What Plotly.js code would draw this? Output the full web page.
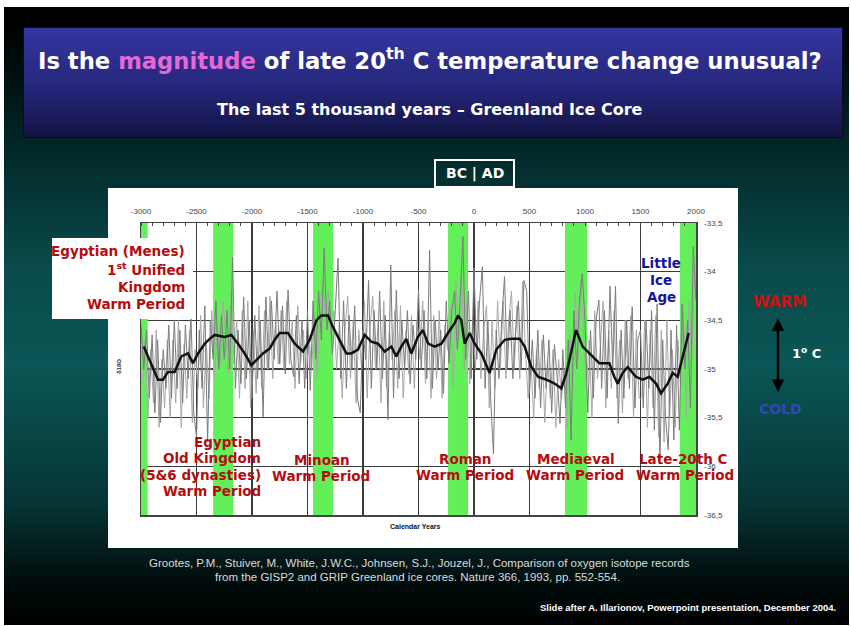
<!DOCTYPE html>
<html><head><meta charset="utf-8">
<script src="https://cdn.plot.ly/plotly-3.0.1.min.js"></script>
<style>
html,body{margin:0;padding:0;background:#fff;width:851px;height:626px;overflow:hidden}
#slide{position:absolute;left:4px;top:7px;width:845px;height:618px;
 background:linear-gradient(to bottom,#000 0%,#000 3%,#022626 22%,#094a4a 42%,#0b5656 58%,#063535 80%,#010a0a 94%,#000 100%)}
#tbox{position:absolute;left:24px;top:28px;width:818px;height:109px;
 background:linear-gradient(to bottom,#3536a0 0%,#25267a 55%,#131344 100%);box-shadow:0 0 0 1px #0a0a22}
#chart{position:absolute;left:0;top:0;width:851px;height:626px}
</style></head>
<body><div id="slide"></div><div id="tbox"></div><div id="chart"></div>
<script>
// ---- data ----
const xTickVals = [-3000,-2500,-2000,-1500,-1000,-500,0,500,1000,1500,2000];
const xTickText = ['-3000','-2500','-2000','-1500','-1000','-500','0','500','1000','1500','2000'];
const yTickVals = [-33.5,-34,-34.5,-35,-35.5,-36,-36.5];
const yTickText = ['-33,5','-34','-34,5','-35','-35,5','-36','-36,5'];

const bandStart = [-3000,-2350,-1450,-234,820,1856];
const bandEnd   = [-2940,-2170,-1270,-54,1018,2000];

// raw record, dark grey (every 25 years from -3000)
const rawStartYear = -3000;
const rawStepYears = 25;
const rawValues = [
 -34.55,-35.0,-34.6,-35.3,-34.65,-35.45,-34.7,-35.55,-34.8,-35.2,
 -34.55,-35.3,-34.5,-35.2,-34.6,-35.35,-34.55,-35.1,-34.45,-35.45,
 -35.7,-34.6,-35.2,-34.35,-35.75,-34.5,-34.9,-34.3,-35.0,-34.45,
 -34.9,-34.4,-35.0,-33.85,-35.2,-34.6,-35.15,-34.26,-35.1,-34.5,
 -35.3,-34.45,-35.1,-34.5,-35.49,-34.26,-35.0,-34.3,-34.9,-34.2,
 -34.95,-34.35,-35.05,-34.19,-34.9,-35.08,-34.45,-35.15,-34.5,-35.2,
 -34.4,-35.22,-34.3,-34.9,-34.2,-34.7,-33.76,-34.6,-34.3,-34.85,
 -34.4,-33.86,-35.1,-34.3,-35.2,-34.45,-35.0,-34.35,-35.3,-35.45,
 -34.6,-34.9,-34.09,-35.2,-34.4,-35.0,-34.2,-35.1,-34.45,-35.52,
 -33.93,-35.3,-34.19,-35.1,-34.5,-35.0,-34.4,-35.15,-34.55,-34.9,
 -34.19,-35.0,-34.4,-35.1,-33.78,-35.2,-34.5,-35.0,-34.6,-35.25,
 -34.3,-34.94,-34.4,-34.2,-34.8,-34.3,-33.64,-34.9,-34.2,-35.1,
 -33.96,-34.9,-34.3,-33.95,-35.2,-34.5,-35.3,-35.87,-34.6,-35.1,
 -34.5,-34.05,-35.0,-34.4,-35.1,-34.6,-34.3,-35.0,-34.09,-34.2,
 -35.25,-34.7,-35.3,-34.6,-35.4,-34.65,-35.2,-34.7,-35.45,-34.75,
 -35.1,-35.56,-34.8,-35.4,-34.7,-35.73,-34.4,-35.0,-34.3,-34.02,
 -34.5,-35.45,-34.6,-35.3,-34.5,-34.29,-35.2,-34.4,-35.3,-34.15,
 -35.0,-34.15,-35.56,-34.6,-35.3,-34.5,-35.2,-34.36,-35.4,-34.7,
 -34.6,-35.4,-34.5,-35.2,-34.4,-35.63,-34.33,-35.94,-34.7,-35.5,
 -35.83,-34.6,-35.73,-34.55,-35.63,-34.33,-35.0,-34.5,-35.4,-33.74,
 -34.3
];
// second raw record, light grey (every 25 years from -2987.5)
const raw2StartYear = -2987.5;
const raw2StepYears = 25;
const raw2Values = [
 -35.1,-34.7,-35.5,-34.8,-35.35,-34.6,-35.6,-34.9,-35.4,-34.7,
 -35.5,-34.7,-35.35,-34.5,-35.6,-34.75,-35.3,-34.6,-35.55,-34.8,
 -35.2,-34.45,-35.4,-34.7,-35.3,-34.4,-35.1,-34.55,-34.95,-34.3,
 -34.6,-35.05,-34.2,-34.95,-34.5,-35.3,-34.4,-35.2,-34.3,-35.4,
 -34.6,-35.25,-34.35,-35.2,-34.4,-35.0,-34.25,-35.1,-34.5,-34.95,
 -34.4,-35.0,-34.3,-34.95,-34.5,-35.2,-34.35,-34.95,-34.6,-35.1,
 -34.65,-35.0,-34.45,-35.1,-34.35,-34.1,-34.5,-34.2,-34.7,-34.4,
 -35.0,-34.5,-35.3,-34.6,-34.25,-35.1,-34.5,-35.35,-34.6,-35.0,
 -34.3,-35.3,-34.6,-34.25,-35.0,-34.5,-35.35,-34.3,-35.2,-34.6,
 -34.9,-34.4,-35.2,-34.35,-35.3,-34.6,-35.05,-34.45,-35.2,-34.5,
 -34.9,-34.3,-35.15,-34.5,-35.3,-34.45,-35.1,-34.4,-35.3,-34.55,
 -34.8,-34.35,-35.2,-34.1,-34.7,-34.0,-35.0,-34.3,-35.15,-34.5,
 -35.0,-34.3,-35.1,-34.6,-34.35,-35.4,-34.5,-35.2,-34.3,-35.0,
 -34.3,-35.1,-34.5,-34.2,-35.0,-34.35,-35.1,-34.1,-34.8,-35.3,
 -34.9,-35.5,-34.8,-35.2,-34.7,-35.55,-34.9,-35.3,-34.8,-35.6,
 -34.9,-35.3,-35.0,-35.6,-34.6,-35.2,-34.2,-34.9,-34.1,-34.6,
 -35.2,-34.7,-35.5,-34.4,-35.1,-34.8,-34.3,-35.4,-34.6,-35.2,
 -34.4,-35.3,-34.7,-35.45,-34.5,-35.1,-34.45,-35.5,-34.6,-35.3,
 -35.3,-34.5,-35.6,-34.6,-35.4,-34.45,-35.7,-34.6,-35.75,-34.5,
 -35.5,-34.8,-35.6,-34.7,-35.2,-34.4,-35.5,-34.3,-34.9,-34.0
];

const smoothYears = [-2975,-2937,-2892,-2847,-2802,-2757,-2697,-2637,-2577,-2532,-2486,-2426,-2381,-2336,-2246,-2186,-2126,-2066,-2006,-1961,-1901,-1841,-1796,-1750,-1676,-1615,-1540,-1480,-1420,-1375,-1315,-1270,-1210,-1150,-1105,-1045,-985,-925,-865,-804,-744,-700,-655,-610,-565,-505,-460,-414,-354,-294,-234,-174,-144,-114,-84,-39,6,66,141,201,277,337,412,457,517,577,652,727,787,830,859,919,979,1039,1129,1219,1264,1294,1339,1384,1459,1520,1580,1640,1685,1745,1790,1835,1874,1910,1934];
const smoothValues = [-34.77,-34.87,-34.98,-35.11,-35.11,-35.03,-35.03,-34.87,-34.84,-34.94,-34.84,-34.74,-34.69,-34.65,-34.67,-34.65,-34.74,-34.84,-34.96,-34.91,-34.84,-34.79,-34.70,-34.63,-34.63,-34.74,-34.82,-34.70,-34.50,-34.45,-34.45,-34.57,-34.70,-34.84,-34.84,-34.80,-34.65,-34.72,-34.74,-34.82,-34.77,-34.87,-34.77,-34.69,-34.84,-34.67,-34.60,-34.74,-34.77,-34.74,-34.63,-34.53,-34.45,-34.50,-34.74,-34.63,-34.74,-34.84,-35.04,-34.80,-34.70,-34.69,-34.69,-34.77,-34.98,-35.08,-35.11,-35.15,-35.20,-35.05,-34.91,-34.60,-34.77,-34.84,-34.94,-34.94,-35.08,-35.15,-35.04,-34.98,-35.08,-35.11,-35.08,-35.15,-35.25,-35.15,-35.04,-35.08,-34.91,-34.74,-34.63];

// ---- helpers (pixel -> paper) ----
const W = 851, H = 626;
const FONT = 'Liberation Sans, Arial, sans-serif';
const BOLD = 'DejaVu Sans, Liberation Sans, sans-serif';
function A(text, x, y, size, color, xanchor, extra, family) {
  return Object.assign({xref:'paper', yref:'paper', x:x/W, y:1-y/H, text:text, showarrow:false,
    xanchor:xanchor||'center', yanchor:'middle', font:{family:family||BOLD, size:size, color:color}}, extra||{});
}
function R(x0,y0,x1,y1,fill,line,layer){
  return {type:'rect', xref:'paper', yref:'paper', x0:x0/W, x1:x1/W, y0:1-y1/H, y1:1-y0/H,
    fillcolor:fill, line:line||{width:0}, layer:layer||'below'};
}

const RED = '#b30d0d', BLUE = '#1414a0', RS = 13.5;
const shapes = [
  R(108,188,738,548,'#ffffff'),
  R(435,160,514,187,'rgba(0,0,0,0)',{color:'#ffffff',width:2},'above'),
  R(52,238,193,319,'#ffffff',{width:0},'above')
];
bandStart.forEach((s,i)=>shapes.push({type:'rect', xref:'x', yref:'y', x0:s, x1:bandEnd[i], y0:-36.5, y1:-33.5,
  fillcolor:'#62ef5a', line:{width:0}, layer:'between'}));

const annotations = [
  A('<b>Is the <span style="color:#e668d8">magnitude</span> of late 20<sup>th</sup> C temperature change unusual?</b>', 430, 59, 22.7, '#ffffff'),
  A('<b>The last 5 thousand years – Greenland Ice Core</b>', 430, 110, 16, '#ffffff'),
  A('<b>BC | AD</b>', 475, 174, 14, '#ffffff'),
  A('<b>Egyptian (Menes)</b>', 187, 251, RS, RED, 'right'),
  A('<b>1<sup>st</sup> Unified</b>', 187, 269, RS, RED, 'right'),
  A('<b>Kingdom</b>', 187, 287, RS, RED, 'right'),
  A('<b>Warm Period</b>', 187, 304, RS, RED, 'right'),
  A('<b>Little</b>', 661, 263, RS, BLUE),
  A('<b>Ice</b>', 661, 280, RS, BLUE),
  A('<b>Age</b>', 661, 297, RS, BLUE),
  A('<b>Egyptian</b>', 263, 442, RS, RED, 'right'),
  A('<b>Old Kingdom</b>', 263, 458, RS, RED, 'right'),
  A('<b>(5&6 dynasties)</b>', 263, 475, RS, RED, 'right'),
  A('<b>Warm Period</b>', 263, 491, RS, RED, 'right'),
  A('<b>Minoan</b>', 322, 460, RS, RED),
  A('<b>Warm Period</b>', 321, 476, RS, RED),
  A('<b>Roman</b>', 465, 459, RS, RED),
  A('<b>Warm Period</b>', 465, 475, RS, RED),
  A('<b>Mediaeval</b>', 576, 459, RS, RED),
  A('<b>Warm Period</b>', 575, 475, RS, RED),
  A('<b>Late-20th C</b>', 683, 459, RS, RED),
  A('<b>Warm Period</b>', 685, 475, RS, RED),
  A('<b>Calendar Years</b>', 415, 526, 7, '#111', 'center', {}, FONT),
  A('<b>δ18O</b>', 119, 366, 6, '#333', 'center', {textangle:-90}, FONT),
  A('<b>WARM</b>', 780, 302, 15, '#cc1111'),
  A('<b>1<sup>o</sup> C</b>', 806, 353, 13, '#ffffff'),
  A('<b>COLD</b>', 780, 409, 14, '#3447b8'),
  A('Grootes, P.M., Stuiver, M., White, J.W.C., Johnsen, S.J., Jouzel, J., Comparison of oxygen isotope records', 419, 563, 11.5, '#dcdcdc', 'center', {}, FONT),
  A('from the GISP2 and GRIP Greenland ice cores. Nature 366, 1993, pp. 552-554.', 417, 577, 11.5, '#dcdcdc', 'center', {}, FONT),
  A('<b>Slide after A. Illarionov, Powerpoint presentation, December 2004.</b>', 838, 607, 9.5, '#ffffff', 'right', {}, FONT),
  {xref:'paper', yref:'paper', x:778/W, y:1-392/H, ax:0, ay:-75, axref:'pixel', ayref:'pixel', text:'', showarrow:true,
   arrowside:'end+start', arrowhead:2, arrowsize:1, arrowwidth:2.5, arrowcolor:'#000'}
];

const traces = [
  {type:'scatter', mode:'lines', x0:raw2StartYear, dx:raw2StepYears, y:raw2Values,
   line:{color:'#a8a8a8', width:1}, hoverinfo:'skip'},
  {type:'scatter', mode:'lines', x0:rawStartYear, dx:rawStepYears, y:rawValues,
   line:{color:'#7c7c7c', width:1}, hoverinfo:'skip'},
  {type:'scatter', mode:'lines', x:smoothYears, y:smoothValues,
   line:{color:'#111111', width:2.5}, hoverinfo:'skip'}
];

const layout = {
  width:W, height:H, margin:{l:0,r:0,t:0,b:0},
  paper_bgcolor:'rgba(0,0,0,0)', plot_bgcolor:'#ffffff',
  showlegend:false,
  xaxis:{domain:[141/W,696/W], range:[-3000,2000], side:'top', tickvals:xTickVals, ticktext:xTickText,
    tickfont:{family:FONT,size:8,color:'#444'}, ticks:'', ticklabelstandoff:4,
    showgrid:true, gridcolor:'#3c3c3c', gridwidth:1.2, zeroline:false,
    showline:true, linecolor:'#444', linewidth:1.5, mirror:true,
    minor:{dtick:100, ticks:'inside', ticklen:3, tickcolor:'#444', showgrid:false}},
  yaxis:{domain:[1-515/H,1-223/H], range:[-36.5,-33.5], side:'right', tickvals:yTickVals, ticktext:yTickText,
    tickfont:{family:FONT,size:8,color:'#444'}, ticks:'', ticklabelstandoff:5,
    showgrid:true, gridcolor:'#3c3c3c', gridwidth:1.2, zeroline:false,
    showline:true, linecolor:'#444', linewidth:1.5, mirror:true},
  shapes:shapes, annotations:annotations
};
Plotly.newPlot('chart', traces, layout, {staticPlot:true, displayModeBar:false});
</script></body></html>
